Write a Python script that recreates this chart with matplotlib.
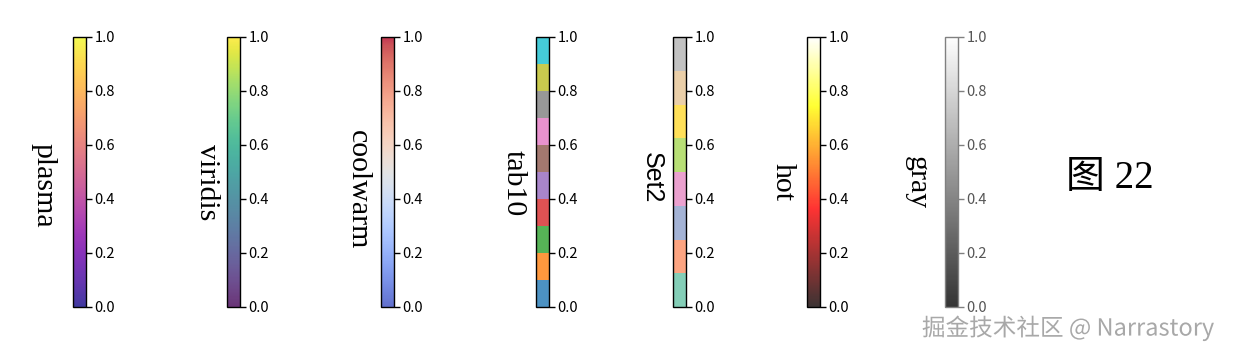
import matplotlib
matplotlib.use("Agg")
import matplotlib.pyplot as plt
import matplotlib as mpl
import matplotlib.patheffects as pe
import numpy as np

# --- data ---
cmap_names = ["plasma", "viridis", "coolwarm", "tab10", "Set2", "hot", "gray"]
tick_values = [0.0, 0.2, 0.4, 0.6, 0.8, 1.0]
vmin, vmax = 0.0, 1.0
title_text = "图 22"
watermark = "掘金技术社区 @ Narrastory"

# --- layout ---
W, H = 1236, 347
bar_left_px = [73, 227, 381, 536, 673, 807, 945]
label_x_px = [43, 207, 358, 514, 652, 783, 917]
label_y_px = [185, 182, 190, 183, 178, 182, 183]
bar_w_px = 13
bar_top_px, bar_bot_px = 37, 307

fig = plt.figure(figsize=(W / 100, H / 100), dpi=100)
norm = mpl.colors.Normalize(vmin=vmin, vmax=vmax)

for i, name in enumerate(cmap_names):
    cax = fig.add_axes([bar_left_px[i] / W, 1 - bar_bot_px / H,
                        bar_w_px / W, (bar_bot_px - bar_top_px) / H])
    sm = mpl.cm.ScalarMappable(norm=norm, cmap=plt.get_cmap(name))
    cb = fig.colorbar(sm, cax=cax, alpha=0.8, ticks=tick_values)
    edge = "#808080" if name == "gray" else "black"
    cb.outline.set_edgecolor(edge)
    cb.outline.set_linewidth(1.0)
    cax.tick_params(axis="y", colors=edge, labelcolor="#555555" if name == "gray" else "black",
                    length=4, width=1, labelsize=10.5, pad=2)
    cax.set_yticklabels([f"{v:.1f}" for v in tick_values])
    for t in cax.get_yticklabels():
        t.set_fontfamily(["Noto Sans CJK SC", "DejaVu Sans"])
    if name == "Set2":
        fam, fs = ["Liberation Sans"], 18
    else:
        fam, fs = ["Liberation Serif"], 21.5
    fig.text(label_x_px[i] / W, 1 - label_y_px[i] / H, name, rotation=270,
             ha="center", va="center", family=fam, fontsize=fs)

fig.text(1110 / W, 1 - 179 / H, title_text, ha="center", va="center",
         family=["Liberation Serif", "Noto Sans CJK SC"], fontsize=28)

fig.text(1068 / W, 1 - 328 / H, watermark, ha="center", va="center",
         family=["Noto Sans CJK SC", "DejaVu Sans"], fontsize=17, color="#a8a8a8",
         path_effects=[pe.withStroke(linewidth=2, foreground="white")])

fig.savefig("out.png", dpi=100)
